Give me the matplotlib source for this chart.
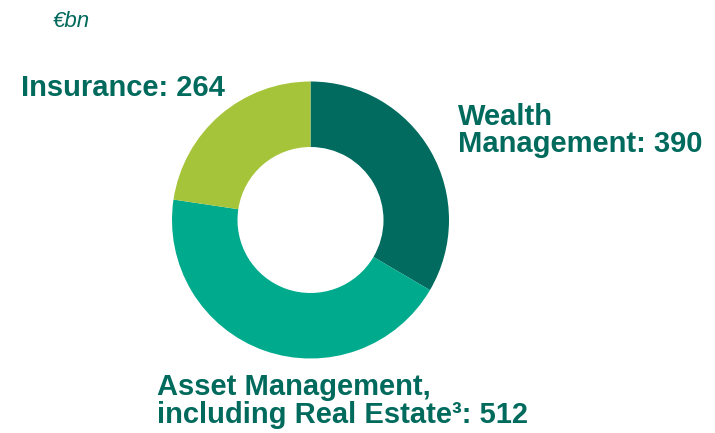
import matplotlib
matplotlib.use('Agg')
import matplotlib.pyplot as plt

# assets by business line, EUR bn
segments = ["Wealth Management", "Asset Management, including Real Estate", "Insurance"]
values = [390, 512, 264]
colors = ["#006B5E", "#00AA8C", "#A6C43A"]
TEXT_COLOR = "#006A5D"

W, H = 715, 433
fig = plt.figure(figsize=(W / 100, H / 100), dpi=100)
ax = fig.add_axes([0, 0, 1, 1])

cx, cy, r_out, r_in = 310.5, H - 220, 138.5, 73
ax.pie(values, colors=colors, startangle=90, counterclock=False,
       center=(cx, cy), radius=r_out, frame=True,
       wedgeprops=dict(width=r_out - r_in, linewidth=0))
ax.set_xlim(0, W)
ax.set_ylim(0, H)
ax.set_aspect('equal')
ax.axis('off')

font = dict(family=['Liberation Sans', 'DejaVu Sans'], fontsize=21,
            fontweight='bold', color=TEXT_COLOR, va='baseline', ha='left')

def put(x, y, s, **kw):
    opts = dict(font)
    opts.update(kw)
    ax.text(x, H - y, s, **opts)

put(53, 27, "€bn", fontsize=16, fontweight='normal', style='italic')
put(21, 96, "Insurance: %d" % values[2])
put(458, 125, "Wealth")
put(458, 152, "Management: %d" % values[0])
put(157, 395, "Asset Management,")
put(157, 423, "including Real Estate³: %d" % values[1])

fig.savefig("out.png", dpi=100)
